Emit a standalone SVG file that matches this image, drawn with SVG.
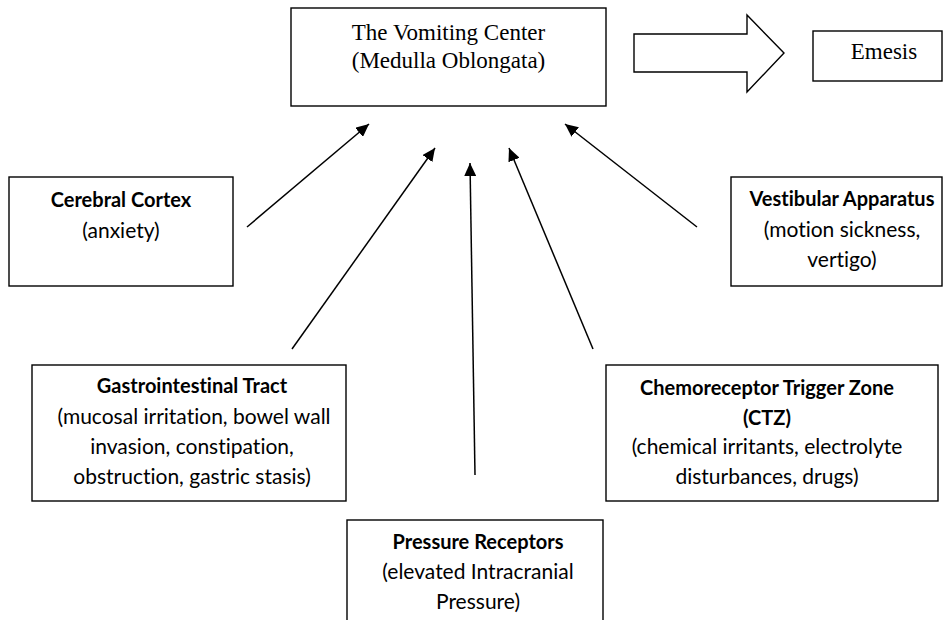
<svg xmlns="http://www.w3.org/2000/svg" width="945" height="620" viewBox="0 0 945 620">
<defs>
<style>
.box{fill:#fff;stroke:#000;stroke-width:1.4}
.serif{font-family:"Liberation Serif","Times New Roman",serif;font-size:23px;fill:#000;text-anchor:middle}
.t{font-family:Lato,"Liberation Sans",sans-serif;font-size:21px;fill:#000;text-anchor:middle;font-variant-ligatures:none;font-feature-settings:"liga" 0,"dlig" 0}
.b{font-weight:bold;font-size:20px}
.conn{stroke:#000;stroke-width:1.5;fill:none;marker-end:url(#ah)}
</style>
<marker id="ah" markerUnits="userSpaceOnUse" markerWidth="14" markerHeight="12" refX="13" refY="6" orient="auto">
<path d="M0,0 L13,6 L0,12 Z" fill="#000"/>
</marker>
</defs>
<rect width="945" height="620" fill="#fff"/>
<g id="vomiting-center">
<rect class="box" x="291" y="8" width="315" height="98"/>
<text class="serif" x="448.5" y="40">The Vomiting Center</text>
<text class="serif" x="448.5" y="68">(Medulla Oblongata)</text>
</g>
<g id="big-arrow">
<path d="M634,34 L747,34 L747,15 L784,53 L747,92 L747,72 L634,72 Z" fill="#fff" stroke="#000" stroke-width="1.4"/>
</g>
<g id="emesis">
<rect class="box" x="813" y="31" width="129" height="50"/>
<text class="serif" x="884" y="59">Emesis</text>
</g>
<g id="cerebral-cortex">
<rect class="box" x="9" y="177" width="224" height="109"/>
<text class="t b" x="121" y="207">Cerebral Cortex</text>
<text class="t" x="121" y="238">(anxiety)</text>
</g>
<g id="vestibular">
<rect class="box" x="731" y="177" width="211" height="109"/>
<text class="t b" x="842" y="206">Vestibular Apparatus</text>
<text class="t" x="842" y="237">(motion sickness,</text>
<text class="t" x="842" y="267">vertigo)</text>
</g>
<g id="gi-tract">
<rect class="box" x="32" y="365" width="314" height="136"/>
<text class="t b" x="192" y="393">Gastrointestinal Tract</text>
<text class="t" x="194" y="424">(mucosal irritation, bowel wall</text>
<text class="t" x="192" y="454">invasion, constipation,</text>
<text class="t" x="192" y="484">obstruction, gastric stasis)</text>
</g>
<g id="ctz">
<rect class="box" x="606" y="365" width="332" height="136"/>
<text class="t b" x="767" y="395">Chemoreceptor Trigger Zone</text>
<text class="t b" x="767" y="425">(CTZ)</text>
<text class="t" x="767" y="454">(chemical irritants, electrolyte</text>
<text class="t" x="767" y="484">disturbances, drugs)</text>
</g>
<g id="pressure-receptors">
<rect class="box" x="347" y="520" width="256" height="110"/>
<text class="t b" x="478" y="549">Pressure Receptors</text>
<text class="t" x="478" y="579">(elevated Intracranial</text>
<text class="t" x="478" y="609">Pressure)</text>
</g>
<g id="connectors">
<line class="conn" x1="247" y1="227" x2="369" y2="124"/>
<line class="conn" x1="292" y1="349" x2="435" y2="148"/>
<line class="conn" x1="475" y1="475" x2="470" y2="163"/>
<line class="conn" x1="593" y1="349" x2="509" y2="148"/>
<line class="conn" x1="697" y1="227" x2="565" y2="124"/>
</g>
</svg>
